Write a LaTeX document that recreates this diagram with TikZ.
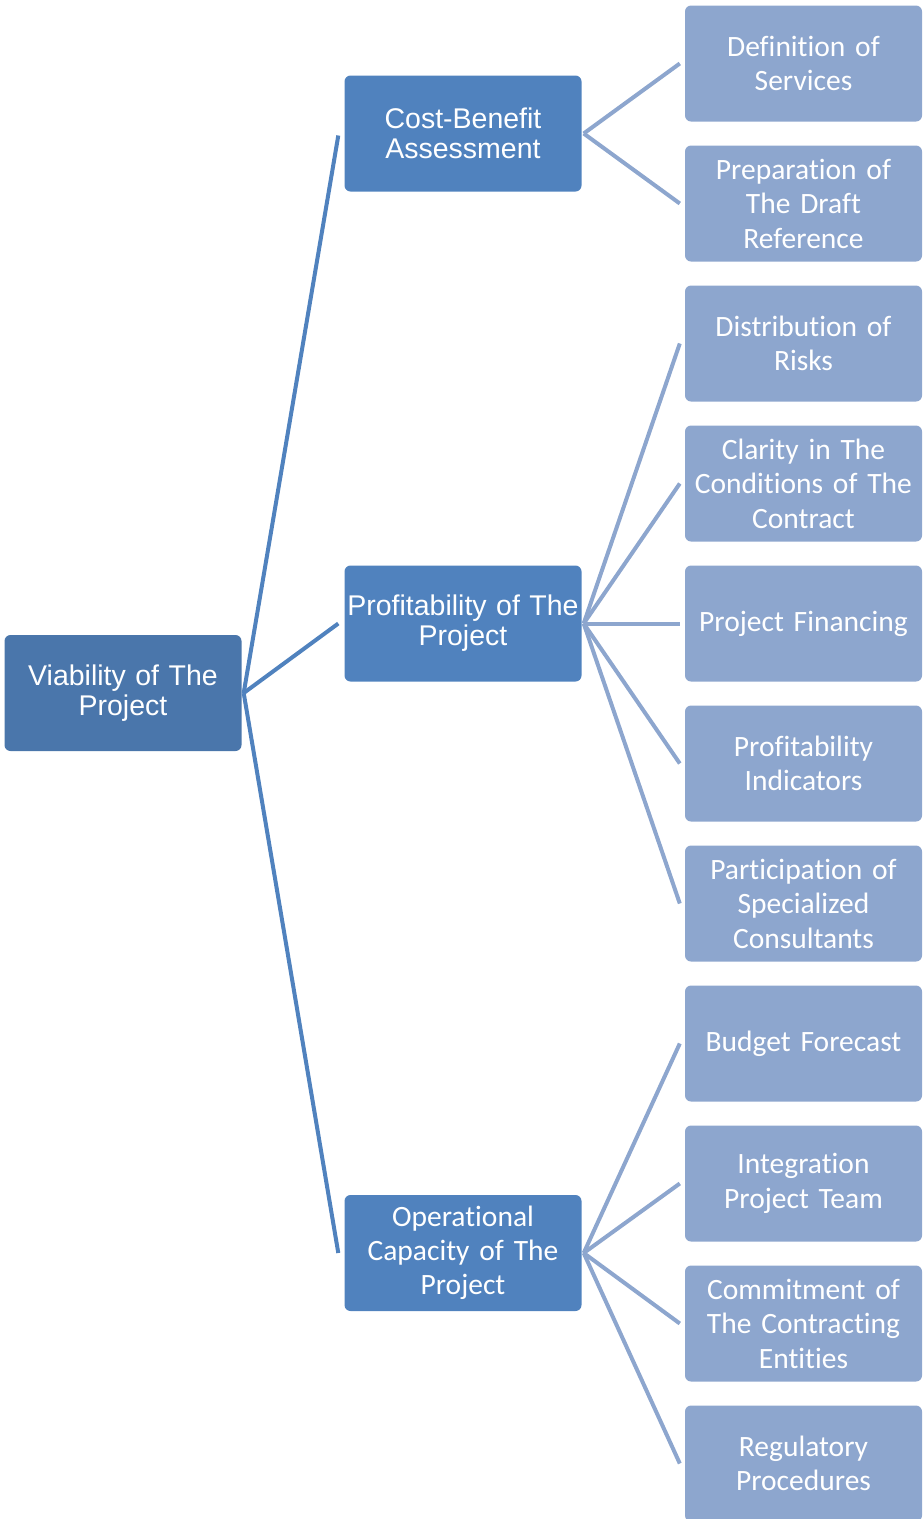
\documentclass[tikz,border=0pt]{standalone}
\usepackage{fontspec}
\setmainfont{Liberation Sans}
\newfontfamily\calibri[Ligatures=NoCommon]{Carlito}
\definecolor{rootblue}{RGB}{74,118,171}
\definecolor{midblue}{RGB}{80,130,190}
\definecolor{leafblue}{RGB}{141,166,206}

\tikzset{
    box/.style={rectangle, rounded corners=6pt, inner sep=0pt, text=white, align=center,
        minimum width=237pt, minimum height=116pt, text width=237pt},
    rootbox/.style={box, fill=rootblue, font=\fontsize{28.5}{30}\selectfont},
    midbox/.style={box, fill=midblue, font=\fontsize{28.5}{30}\selectfont},
    opbox/.style={box, fill=midblue, font=\calibri\fontsize{29.5}{34}\selectfont},
    leaf/.style={box, fill=leafblue, font=\calibri\fontsize{29.5}{34.5}\selectfont},
    trunk/.style={draw=midblue, line width=4pt},
    twig/.style={draw=leafblue, line width=4pt}
}

\begin{document}
\begin{tikzpicture}[x=1pt, y=-1pt, line cap=butt, line join=round]
    \useasboundingbox (0, 0) rectangle (922, 1519);

    % Root
    \node[rootbox] (viab) at (123, 693) {Viability of The\\Project};

    % Second level
    \node[midbox] (cost) at (463, 133.5) {Cost-Benefit\\Assessment};
    \node[midbox] (prof) at (463, 623.5) {Profitability of The\\Project};
    \node[opbox]  (oper) at (463, 1253)  {Operational\\Capacity of The\\Project};

    % Leaves of cost
    \node[leaf] (serv) at (803.5, 63.5)  {Definition of\\Services};
    \node[leaf] (draft) at (803.5, 203.5) {Preparation of\\The Draft\\Reference};

    % Leaves of prof
    \node[leaf] (risk) at (803.5, 343.5)  {Distribution of\\Risks};
    \node[leaf] (clar) at (803.5, 483.5)  {Clarity in The\\Conditions of The\\Contract};
    \node[leaf] (fin) at (803.5, 623.5)   {Project Financing};
    \node[leaf] (ind) at (803.5, 763.5)   {Profitability\\Indicators};
    \node[leaf] (cons) at (803.5, 903.5)  {Participation of\\Specialized\\Consultants};

    % Leaves of oper
    \node[leaf] (budg) at (803.5, 1043.5) {Budget Forecast};
    \node[leaf] (team) at (803.5, 1183.5) {Integration\\Project Team};
    \node[leaf] (comm) at (803.5, 1323.5) {Commitment of\\The Contracting\\Entities};
    \node[leaf] (regu) at (803.5, 1463.5) {Regulatory\\Procedures};

    % Root to second level
    \draw[trunk] ([xshift=2pt]viab.east) -- ([xshift=-6pt, yshift=-2pt]cost.west);
    \draw[trunk] ([xshift=2pt]viab.east) -- ([xshift=-6pt]prof.west);
    \draw[trunk] ([xshift=2pt]viab.east) -- ([xshift=-6pt]oper.west);

    % Second level to leaves
    \foreach \l in {serv, draft}
        \draw[twig] ([xshift=2pt]cost.east) -- ([xshift=-5pt]\l.west);
    \foreach \l in {risk, clar, fin, ind, cons}
        \draw[twig] ([xshift=2pt]prof.east) -- ([xshift=-5pt]\l.west);
    \foreach \l in {budg, team, comm, regu}
        \draw[twig] ([xshift=2pt]oper.east) -- ([xshift=-5pt]\l.west);
\end{tikzpicture}
\end{document}
